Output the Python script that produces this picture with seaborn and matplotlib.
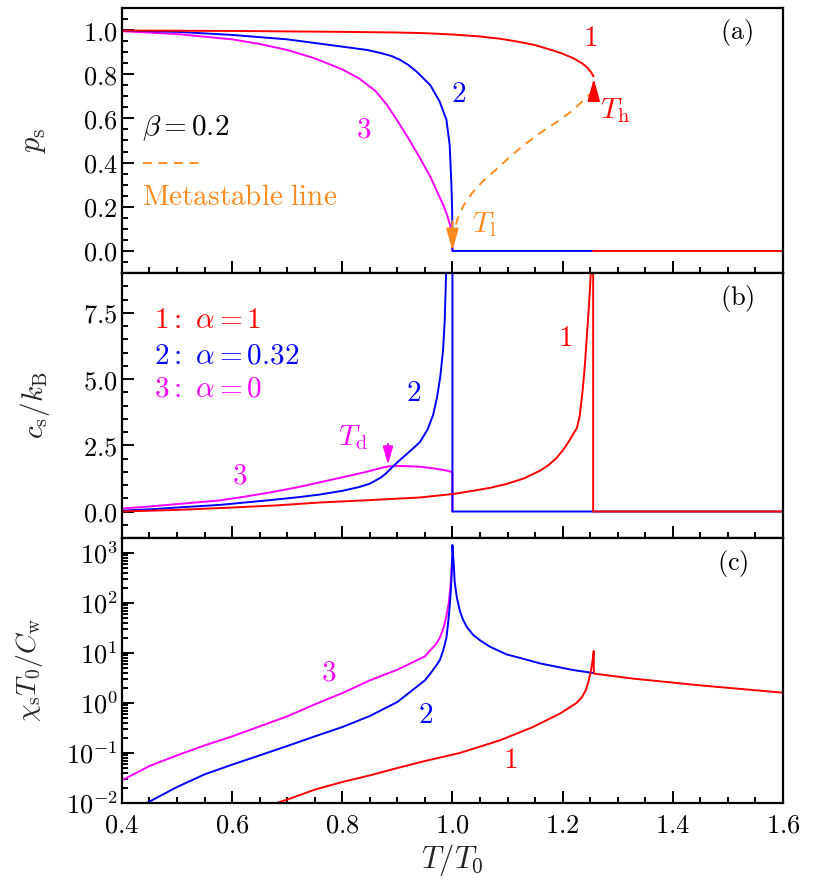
import numpy as np
import matplotlib
matplotlib.use("Agg")
import matplotlib.pyplot as plt
from matplotlib.ticker import MultipleLocator, FixedLocator, FuncFormatter, LogLocator, NullFormatter
import seaborn as sns

# ---------------- data ----------------
# panel (a): order parameter p_s
Ta_1 = [0.40, 0.50, 0.60, 0.70, 0.80, 0.90, 0.95, 1.00, 1.05, 1.086, 1.12, 1.15, 1.177, 1.20, 1.22,
        1.235, 1.245, 1.252, 1.256]
pa_1 = [0.998, 0.997, 0.996, 0.994, 0.992, 0.989, 0.986, 0.980, 0.971, 0.961, 0.947, 0.932, 0.912, 0.893,
        0.872, 0.850, 0.830, 0.808, 0.790]
Ta_1z = [1.256, 1.60]
pa_1z = [0.0, 0.0]
Ta_2 = [0.40, 0.50, 0.60, 0.70, 0.80, 0.845, 0.87, 0.89, 0.905, 0.92, 0.935, 0.96, 0.977, 0.989, 0.995,
        0.998, 0.9995, 1.0, 1.60]
pa_2 = [0.998, 0.992, 0.978, 0.958, 0.925, 0.910, 0.896, 0.882, 0.865, 0.842, 0.812, 0.750, 0.675, 0.595,
        0.480, 0.310, 0.180, 0.0, 0.0]
Ta_3 = [0.40, 0.50, 0.60, 0.65, 0.70, 0.75, 0.80, 0.83, 0.86, 0.88, 0.90, 0.92, 0.94, 0.96, 0.971,
        0.983, 0.990, 0.996, 0.999, 1.0]
pa_3 = [0.995, 0.982, 0.958, 0.937, 0.910, 0.872, 0.822, 0.782, 0.725, 0.665, 0.590, 0.510, 0.425, 0.335,
        0.275, 0.210, 0.165, 0.115, 0.060, 0.0]
Ta_meta = [1.001, 1.004, 1.01, 1.02, 1.035, 1.055, 1.08, 1.104, 1.13, 1.16, 1.19, 1.215, 1.235, 1.25, 1.256]
pa_meta = [0.05, 0.10, 0.15, 0.205, 0.26, 0.315, 0.37, 0.425, 0.48, 0.535, 0.585, 0.63, 0.675, 0.71, 0.725]

# panel (b): specific heat c_s/k_B
Tb_1 = [0.40, 0.50, 0.578, 0.68, 0.759, 0.85, 0.941, 1.001, 1.037, 1.07, 1.098, 1.13, 1.159, 1.175,
        1.189, 1.202, 1.213, 1.22, 1.226, 1.231, 1.236, 1.240, 1.243, 1.247, 1.250, 1.2525, 1.254,
        1.2555, 1.2555, 1.60]
cb_1 = [0.0, 0.06, 0.13, 0.23, 0.34, 0.43, 0.53, 0.66, 0.78, 0.90, 1.04, 1.25, 1.54, 1.76,
        2.02, 2.35, 2.70, 2.95, 3.15, 3.6, 4.5, 5.4, 6.3, 7.5, 8.5, 9.6, 12.0,
        12.0, 0.0, 0.0]
Tb_2 = [0.40, 0.457, 0.50, 0.578, 0.669, 0.72, 0.759, 0.80, 0.83, 0.85, 0.87, 0.88, 0.892, 0.905,
        0.92, 0.941, 0.955, 0.965, 0.972, 0.978, 0.983, 0.986, 0.988, 0.990, 1.0, 1.0, 1.60]
cb_2 = [0.03, 0.09, 0.15, 0.25, 0.43, 0.54, 0.64, 0.78, 0.92, 1.05, 1.28, 1.45, 1.70, 1.95,
        2.22, 2.62, 3.10, 3.65, 4.30, 5.10, 6.10, 7.20, 8.60, 11.0, 12.0, 0.0, 0.0]
Tb_3 = [0.40, 0.45, 0.50, 0.578, 0.62, 0.669, 0.72, 0.759, 0.80, 0.83, 0.85, 0.87, 0.883, 0.90,
        0.92, 0.941, 0.965, 0.986, 0.998, 1.0, 1.0]
cb_3 = [0.11, 0.19, 0.28, 0.42, 0.55, 0.72, 0.92, 1.10, 1.29, 1.43, 1.53, 1.64, 1.70, 1.72,
        1.71, 1.69, 1.63, 1.56, 1.50, 1.49, 0.0]

# panel (c): susceptibility chi_s T0 / C_w
Tc_1 = [0.6807, 0.70, 0.75, 0.80, 0.85, 0.90, 0.95, 1.013, 1.086, 1.146, 1.195, 1.21, 1.225, 1.235,
        1.242, 1.247, 1.251, 1.254, 1.2566, 1.2566, 1.328, 1.449, 1.60]
xc_1 = [0.010, 0.0117, 0.0185, 0.0263, 0.0357, 0.0501, 0.0692, 0.100, 0.179, 0.331, 0.614, 0.78, 1.0, 1.3,
        1.8, 2.7, 4.2, 6.5, 11.0, 3.89, 3.08, 2.26, 1.61]
Tc_2 = [0.445, 0.50, 0.55, 0.60, 0.65, 0.70, 0.75, 0.80, 0.85, 0.90, 0.95, 0.96, 0.97, 0.977, 0.983,
        0.989, 0.992, 0.995, 0.997, 0.9985, 0.9995, 1.0, 1.0012, 1.0024, 1.004, 1.008, 1.0134, 1.019,
        1.0255, 1.0376, 1.05, 1.068, 1.098, 1.13, 1.1586, 1.19, 1.219, 1.256]
xc_2 = [0.0100, 0.0209, 0.0374, 0.0585, 0.0897, 0.138, 0.215, 0.331, 0.55, 1.05, 2.84, 3.9, 5.5, 7.2, 11.0,
        20.0, 38.0, 85.0, 170.0, 350.0, 800.0, 1450.0, 900.0, 600.0, 270.0, 130.0, 70.0, 47.0,
        34.0, 23.0, 18.0, 13.4, 9.42, 7.6, 6.22, 5.3, 4.57, 3.98]
Tc_3 = [0.40, 0.45, 0.50, 0.55, 0.60, 0.65, 0.70, 0.75, 0.80, 0.85, 0.90, 0.95, 0.96, 0.97, 0.977,
        0.984, 0.989, 0.993, 0.996, 0.998, 0.9995]
xc_3 = [0.0284, 0.055, 0.0898, 0.142, 0.215, 0.341, 0.541, 0.94, 1.58, 2.84, 4.64, 8.57, 11.5, 15.0, 20.0,
        32.0, 55.0, 95.0, 190.0, 400.0, 780.0]

x_ticks = [0.4, 0.6, 0.8, 1.0, 1.2, 1.4, 1.6]
ya_ticks = [0.0, 0.2, 0.4, 0.6, 0.8, 1.0]
yb_ticks = [0.0, 2.5, 5.0, 7.5]
yc_ticks = [1e-2, 1e-1, 1e0, 1e1, 1e2, 1e3]

legend_labels = [r"$1{:}\ \alpha=1$", r"$2{:}\ \alpha=0.32$", r"$3{:}\ \alpha=0$"]

RED, BLUE, MAG, ORG = "#ff0000", "#0000ff", "#ff00ff", "#ff8a1e"

# ---------------- style ----------------
sns.set_theme(style="ticks")
plt.rcParams.update({
    "font.family": ["DejaVu Serif"],
    "mathtext.fontset": "cm",
    "axes.linewidth": 1.6,
    "axes.edgecolor": "black",
    "xtick.color": "black",
    "ytick.color": "black",
})

fig = plt.figure(figsize=(8.13, 8.88), dpi=100)
gs = fig.add_gridspec(3, 1, left=0.150, right=0.963, top=0.991, bottom=0.0957, hspace=0)
axa = fig.add_subplot(gs[0])
axb = fig.add_subplot(gs[1], sharex=axa)
axc = fig.add_subplot(gs[2], sharex=axa)

LW = 1.4
TICK_FS = 19
LAB_FS = 21
TXT_FS = 21
PAN_FS = 19


def line(ax, x, y, color, **kw):
    sns.lineplot(x=x, y=y, ax=ax, color=color, lw=LW, sort=False, estimator=None, **kw)


# panel (a)
line(axa, Ta_3, pa_3, MAG)
line(axa, Ta_2, pa_2, BLUE)
line(axa, Ta_1, pa_1, RED)
line(axa, Ta_1z, pa_1z, RED)
line(axa, Ta_meta, pa_meta, ORG, linestyle=(0, (4.5, 3.5)))

# panel (b)
line(axb, Tb_3, cb_3, MAG)
line(axb, Tb_2, cb_2, BLUE)
line(axb, Tb_1, cb_1, RED)

# panel (c)
axc.set_yscale("log")
line(axc, Tc_3, xc_3, MAG)
line(axc, Tc_2, xc_2, BLUE)
line(axc, Tc_1, xc_1, RED)

# axes limits & ticks
axa.set_xlim(0.4, 1.6)
axa.set_ylim(-0.1, 1.1)
axb.set_ylim(-1.0, 9.0)
axc.set_ylim(1e-2, 2e3)

mfmt = FuncFormatter(lambda v, p: r"$%.1f$" % v)
axc.xaxis.set_major_locator(FixedLocator(x_ticks))
axc.xaxis.set_minor_locator(MultipleLocator(0.05))
axc.xaxis.set_major_formatter(mfmt)
axa.yaxis.set_major_locator(FixedLocator(ya_ticks))
axa.yaxis.set_minor_locator(MultipleLocator(0.05))
axa.yaxis.set_major_formatter(mfmt)
axb.yaxis.set_major_locator(FixedLocator(yb_ticks))
axb.yaxis.set_minor_locator(MultipleLocator(0.5))
axb.yaxis.set_major_formatter(mfmt)
axc.yaxis.set_major_locator(FixedLocator(yc_ticks))
axc.yaxis.set_minor_locator(LogLocator(base=10, subs=np.arange(2, 10)))
axc.yaxis.set_minor_formatter(NullFormatter())
axc.yaxis.set_major_formatter(FuncFormatter(lambda v, p: r"$10^{%d}$" % int(round(np.log10(v)))))

for ax in (axa, axb, axc):
    ax.tick_params(which="both", direction="in", top=False, right=False, width=1.4,
                   labelsize=TICK_FS)
    ax.tick_params(which="major", length=8.5)
    ax.tick_params(which="minor", length=4.5)
    ax.tick_params(axis="y", pad=3)
    ax.tick_params(axis="x", pad=7)
    ax.set_xlabel("")
    ax.set_ylabel("")
    for s in ax.spines.values():
        s.set_visible(True)
        s.set_linewidth(1.6)
        s.set_color("black")
plt.setp(axa.get_xticklabels(), visible=False)
plt.setp(axb.get_xticklabels(), visible=False)

axa.set_ylabel(r"$p_\mathrm{s}$", fontsize=LAB_FS + 1)
axb.set_ylabel(r"$c_\mathrm{s}/k_\mathrm{B}$", fontsize=LAB_FS)
axc.set_ylabel(r"$\chi_\mathrm{s}T_0/C_\mathrm{w}$", fontsize=LAB_FS - 1)
axc.set_xlabel(r"$T/T_0$", fontsize=LAB_FS + 1)
axa.yaxis.set_label_coords(-0.112, 0.5)
axb.yaxis.set_label_coords(-0.106, 0.5)
axc.yaxis.set_label_coords(-0.116, 0.5)
axc.xaxis.set_label_coords(0.5, -0.148)
axc.xaxis.label.set_va("top")

# ---------------- annotations ----------------
# panel (a)
axa.text(1.251, 0.966, r"$1$", color=RED, fontsize=TXT_FS, ha="center", va="center")
axa.text(1.012, 0.71, r"$2$", color=BLUE, fontsize=TXT_FS, ha="center", va="center")
axa.text(0.838, 0.55, r"$3$", color=MAG, fontsize=TXT_FS, ha="center", va="center")
axa.text(1.516, 0.99, r"$\mathrm{(a)}$", color="black", fontsize=PAN_FS, ha="center", va="center")
axa.text(1.268, 0.635, r"$T_\mathrm{h}$", color=RED, fontsize=TXT_FS, ha="left", va="center")
axa.text(1.035, 0.12, r"$T_\mathrm{l}$", color=ORG, fontsize=TXT_FS, ha="left", va="center")
axa.text(0.437, 0.555, r"$\beta=0.2$", color="black", fontsize=21, ha="left", va="center")
axa.plot([0.438, 0.543], [0.40, 0.40], color=ORG, lw=LW, linestyle=(0, (4.5, 3.5)))
axa.text(0.437, 0.245, r"$\mathrm{Metastable\ line}$", color=ORG, fontsize=21, ha="left", va="center")
arrow_kw = dict(arrowstyle="-|>,head_length=0.9,head_width=0.25", lw=LW, shrinkA=0, shrinkB=0)
axa.annotate("", xy=(1.0, 0.0), xytext=(1.0, 0.135),
             arrowprops=dict(color=ORG, mutation_scale=15, **arrow_kw))
axa.annotate("", xy=(1.2566, 0.78), xytext=(1.2566, 0.677),
             arrowprops=dict(color=RED, mutation_scale=15, **arrow_kw))

# panel (b)
for lab, col, yy in zip(legend_labels, [RED, BLUE, MAG], [7.22, 5.9, 4.64]):
    axb.text(0.458, yy, lab, color=col, fontsize=TXT_FS, ha="left", va="center")
axb.text(0.82, 2.8, r"$T_\mathrm{d}$", color=MAG, fontsize=TXT_FS, ha="center", va="center")
axb.annotate("", xy=(0.883, 1.76), xytext=(0.883, 2.55),
             arrowprops=dict(color=MAG, mutation_scale=12, **arrow_kw))
axb.text(0.614, 1.35, r"$3$", color=MAG, fontsize=TXT_FS, ha="center", va="center")
axb.text(0.93, 4.46, r"$2$", color=BLUE, fontsize=TXT_FS, ha="center", va="center")
axb.text(1.205, 6.53, r"$1$", color=RED, fontsize=TXT_FS, ha="center", va="center")
axb.text(1.518, 8.05, r"$\mathrm{(b)}$", color="black", fontsize=PAN_FS, ha="center", va="center")

# panel (c)
axc.text(0.775, 4.0, r"$3$", color=MAG, fontsize=TXT_FS, ha="center", va="center")
axc.text(0.952, 0.57, r"$2$", color=BLUE, fontsize=TXT_FS, ha="center", va="center")
axc.text(1.104, 0.071, r"$1$", color=RED, fontsize=TXT_FS, ha="center", va="center")
axc.text(1.509, 610, r"$\mathrm{(c)}$", color="black", fontsize=PAN_FS, ha="center", va="center")

fig.savefig("out.png", dpi=100, facecolor="white")
